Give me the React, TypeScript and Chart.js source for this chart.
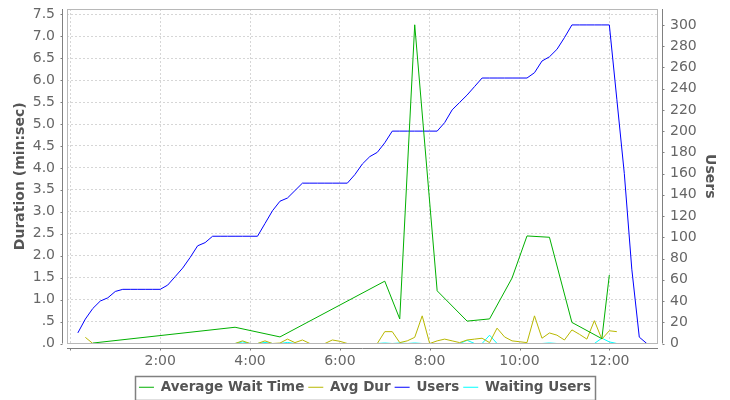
import React, { useEffect, useRef } from "react";
import { Chart, registerables } from "chart.js";

Chart.register(...registerables);

// Sample times in minutes since start (Users / Waiting Users)
const sampleMinutes = [
  10, 20, 30, 40, 50, 60, 70, 80, 90, 100,
  110, 120, 130, 140, 150, 160, 170, 180, 190, 200,
  210, 220, 230, 240, 250, 260, 270, 280, 290, 300,
  310, 320, 330, 340, 350, 360, 370, 380, 390, 400,
  410, 420, 430, 440, 450, 460, 470, 480, 490, 500,
  510, 520, 530, 540, 550, 560, 570, 580, 590, 600,
  610, 620, 630, 640, 650, 660, 670, 680, 690, 700,
  710, 720, 730, 740, 750, 760, 770,
];

const users = [
  10, 23, 33, 40, 43, 49, 51, 51, 51, 51,
  51, 51, 55, 63, 71, 81, 92, 95, 101, 101,
  101, 101, 101, 101, 101, 113, 125, 134, 137, 144,
  151, 151, 151, 151, 151, 151, 151, 159, 169, 176,
  180, 189, 200, 200, 200, 200, 200, 200, 200, 208,
  220, 227, 234, 242, 250, 250, 250, 250, 250, 250,
  250, 255, 266, 270, 277, 288, 300, 300, 300, 300,
  300, 300, 230, 160, 70, 6, 0,
];

const waitingUsers = [
  0, 0, 0, 0, 0, 0, 0, 0, 0, 0,
  0, 0, 0, 0, 0, 0, 0, 0, 0, 0,
  0, 0, 1.5, 0, 0, 1, 0, 0, 1, 0,
  0, 0, 0, 0, 0, 0, 0, 0, 0, 0,
  0, 0.5, 0, 0.5, 0, 0.5, 0, 0, 0, 0,
  0, 0, 3, 0, 0, 7.8, 0, 0, 0, 0,
  0, 0, 0, 0.5, 0, 0, 0, 0, 0, 0,
  5, 1.5, 0, 0, 0, 0, 0,
];

// Avg Dur: 20 .. 730 minutes
const avgDurMinutes = sampleMinutes.slice(1, 73);
const avgDur = [
  0.14, 0, 0, 0, 0, 0, 0, 0, 0, 0,
  0, 0, 0, 0, 0, 0, 0, 0, 0, 0,
  0, 0.06, 0, 0, 0.06, 0, 0.01, 0.1, 0.02, 0.08,
  0, 0, 0, 0.08, 0.05, 0, 0, 0, 0, 0,
  0.27, 0.27, 0.02, 0.06, 0.14, 0.63, 0, 0.06, 0.1, 0.06,
  0.02, 0.08, 0.1, 0.12, 0.02, 0.35, 0.15, 0.06, 0.04, 0.02,
  0.63, 0.12, 0.24, 0.19, 0.08, 0.31, 0.21, 0.1, 0.52, 0.1,
  0.29, 0.27,
];

const waitMinutes = [30, 220, 280, 420, 440, 460, 490, 530, 560, 590, 610, 640, 670, 710, 720];
const avgWait = [0.01, 0.37, 0.15, 1.42, 0.56, 7.26, 1.2, 0.51, 0.56, 1.49, 2.45, 2.42, 0.48, 0.11, 1.56];

const xTickMinutes = [0, 120, 240, 360, 480, 600, 720];

const FONT = "'DejaVu Sans', sans-serif";

const pts = (xs: number[], ys: number[]) => xs.map((x, i) => ({ x, y: ys[i] }));

const axesPlugin = {
  id: "jfreeAxes",
  afterLayout(chart: any) {
    if (chart.legend) {
      chart.legend.top += 4;
      chart.legend.bottom += 4;
    }
  },
  afterDraw(chart: any) {
    const { ctx, chartArea: ca, scales } = chart;
    ctx.save();
    ctx.lineWidth = 1;
    // plot frame
    ctx.strokeStyle = "#b8b8b8";
    ctx.strokeRect(Math.round(ca.left) + 0.5, Math.round(ca.top) + 0.5, Math.round(ca.right - ca.left) - 1, Math.round(ca.bottom - ca.top) - 1);
    ctx.strokeStyle = "#808080";
    // left axis
    const lx = Math.round(ca.left) - 5 + 0.5;
    ctx.beginPath();
    ctx.moveTo(lx, ca.top);
    ctx.lineTo(lx, ca.bottom);
    scales.y.ticks.forEach((t: any) => {
      const py = Math.round(scales.y.getPixelForValue(t.value)) + 0.5;
      ctx.moveTo(lx - 2, py);
      ctx.lineTo(lx, py);
    });
    // right axis
    const rx = Math.round(ca.right) + 5 - 0.5;
    ctx.moveTo(rx, ca.top);
    ctx.lineTo(rx, ca.bottom);
    scales.y2.ticks.forEach((t: any) => {
      const py = Math.round(scales.y2.getPixelForValue(t.value)) + 0.5;
      ctx.moveTo(rx, py);
      ctx.lineTo(rx + 2, py);
    });
    // bottom axis
    const by = Math.round(ca.bottom) + 4 + 0.5;
    ctx.moveTo(ca.left, by);
    ctx.lineTo(ca.right, by);
    scales.x.ticks.forEach((t: any) => {
      const px = Math.round(scales.x.getPixelForValue(t.value)) + 0.5;
      ctx.moveTo(px, by);
      ctx.lineTo(px, by + 2);
    });
    ctx.stroke();
    // legend frame
    const lg = chart.legend;
    if (lg && lg.legendHitBoxes && lg.legendHitBoxes.length) {
      const hb = lg.legendHitBoxes;
      const left = Math.min(...hb.map((h: any) => h.left)) - 4;
      const right = Math.max(...hb.map((h: any) => h.left + h.width)) + 4;
      const top = Math.min(...hb.map((h: any) => h.top)) - 5;
      const bottom = Math.max(...hb.map((h: any) => h.top + h.height)) + 5;
      ctx.strokeStyle = "#808080";
      ctx.lineWidth = 1.5;
      ctx.strokeRect(Math.round(left) + 0.5, Math.round(top) + 0.5, Math.round(right - left), Math.round(bottom - top));
    }
    ctx.restore();
  },
};

const noPadV = (s: any) => {
  s.paddingTop = 0;
  s.paddingBottom = 0;
};

export default function App() {
  const canvasRef = useRef<HTMLCanvasElement | null>(null);

  useEffect(() => {
    document.body.style.margin = "0";
    const canvas = canvasRef.current;
    if (!canvas) return;
    const tickFont = { family: FONT, size: 14 };
    const titleFont = { family: FONT, size: 14, weight: "bold" as const };
    const legendFont = { family: FONT, size: 13.5, weight: "bold" as const };
    const gridColor = "#d6d6d6";
    const chart = new Chart(canvas, {
      type: "line",
      data: {
        datasets: [
          { label: "Average Wait Time", data: pts(waitMinutes, avgWait), borderColor: "#00b000", backgroundColor: "#00b000", yAxisID: "y" },
          { label: "Avg Dur", data: pts(avgDurMinutes, avgDur), borderColor: "#b8b800", backgroundColor: "#b8b800", yAxisID: "y" },
          { label: "Users", data: pts(sampleMinutes, users), borderColor: "#0000ff", backgroundColor: "#0000ff", yAxisID: "y2" },
          { label: "Waiting Users", data: pts(sampleMinutes, waitingUsers), borderColor: "#00ffff", backgroundColor: "#00ffff", yAxisID: "y2" },
        ],
      },
      options: {
        animation: false,
        responsive: false,
        maintainAspectRatio: false,
        events: [],
        layout: { padding: { top: 9, left: 0, right: 0, bottom: 0 } },
        elements: { point: { radius: 0 }, line: { borderWidth: 1, tension: 0 } },
        plugins: {
          tooltip: { enabled: false },
          legend: {
            position: "bottom",
            labels: {
              usePointStyle: true,
              pointStyle: "line",
              pointStyleWidth: 15,
              padding: 4,
              color: "#555555",
              font: legendFont,
            },
          },
        },
        scales: {
          x: {
            type: "linear",
            min: -4.5,
            max: 785,
            afterBuildTicks: (s: any) => {
              s.ticks = xTickMinutes.map((v) => ({ value: v }));
            },
            afterFit: (s: any) => {
              s.height = 29;
              s.paddingLeft = 0;
              s.paddingRight = 0;
            },
            ticks: {
              autoSkip: false,
              maxRotation: 0,
              padding: 9,
              color: "#666666",
              font: tickFont,
              callback: (v: any) => (v === 0 ? "" : `${v / 60}:00`),
            },
            grid: { color: gridColor, drawTicks: false },
            border: { display: false, dash: [2, 2] },
          },
          y: {
            position: "left",
            min: 0,
            max: 7.62,
            afterFit: (s: any) => {
              s.width = 67;
              noPadV(s);
            },
            ticks: {
              stepSize: 0.5,
              includeBounds: false,
              padding: 12,
              color: "#666666",
              font: tickFont,
              callback: (v: any) => {
                const s = Number(v).toFixed(1);
                return s.startsWith("0") ? s.slice(1) : s;
              },
            },
            title: { display: true, text: "Duration (min:sec)", color: "#555555", font: titleFont, padding: { top: 12, bottom: 0 } },
            grid: { color: gridColor, drawTicks: false },
            border: { display: false, dash: [2, 2] },
          },
          y2: {
            position: "right",
            min: 0,
            max: 315,
            afterFit: (s: any) => {
              s.width = 72;
              noPadV(s);
            },
            ticks: {
              stepSize: 20,
              includeBounds: false,
              padding: 12,
              color: "#666666",
              font: tickFont,
            },
            title: { display: true, text: "Users", color: "#555555", font: titleFont, padding: { top: 12, bottom: 0 } },
            grid: { display: false, drawTicks: false },
            border: { display: false },
          },
        },
      },
      plugins: [axesPlugin],
    });
    return () => chart.destroy();
  }, []);

  return (
    <div style={{ width: 730, height: 400 }}>
      <canvas ref={canvasRef} width={730} height={400} style={{ display: "block" }} />
    </div>
  );
}
